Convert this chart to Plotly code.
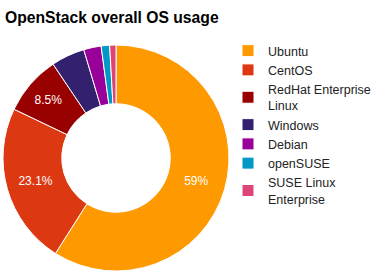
import plotly.graph_objects as go

labels = ["Ubuntu", "CentOS", "RedHat Enterprise<br>Linux", "Windows", "Debian", "openSUSE", "SUSE Linux<br>Enterprise"]
values = [59.0, 23.1, 8.5, 4.8, 2.5, 1.2, 0.9]
slice_text = ["59%", "23.1%", "8.5%", "", "", "", ""]
colors = ["#ff9900", "#dc3912", "#990000", "#33206e", "#990099", "#0099c6", "#dd4477"]

dx = [3/378, 229/378]
dy = [1-272/280, 1-44/280]
fig = go.Figure(go.Pie(
    labels=labels, values=values, text=slice_text,
    textinfo="text", textposition="inside", insidetextorientation="horizontal",
    hole=0.48, sort=False, direction="clockwise", rotation=0,
    marker=dict(colors=colors, line=dict(color="white", width=1)),
    textfont=dict(color="white", size=12, family="Liberation Sans, Arial"),
    domain=dict(x=dx, y=dy),
))
fig.update_layout(
    width=378, height=280,
    margin=dict(l=0, r=0, t=0, b=0, autoexpand=False),
    paper_bgcolor="white",
    title=dict(text="<b>OpenStack overall OS usage</b>", x=5/378, xanchor="left", y=1-18/280, yanchor="middle",
               font=dict(family="Liberation Sans, Arial", size=15.7, color="black")),
    legend=dict(x=228/378, y=1-36/280, xanchor="left", yanchor="top",
                font=dict(family="Liberation Sans, Arial", size=12.5, color="#222222"),
                tracegroupgap=0, itemwidth=30, bgcolor="rgba(0,0,0,0)"),
    font=dict(family="Liberation Sans, Arial"),
)
fig.write_html("out.html")
